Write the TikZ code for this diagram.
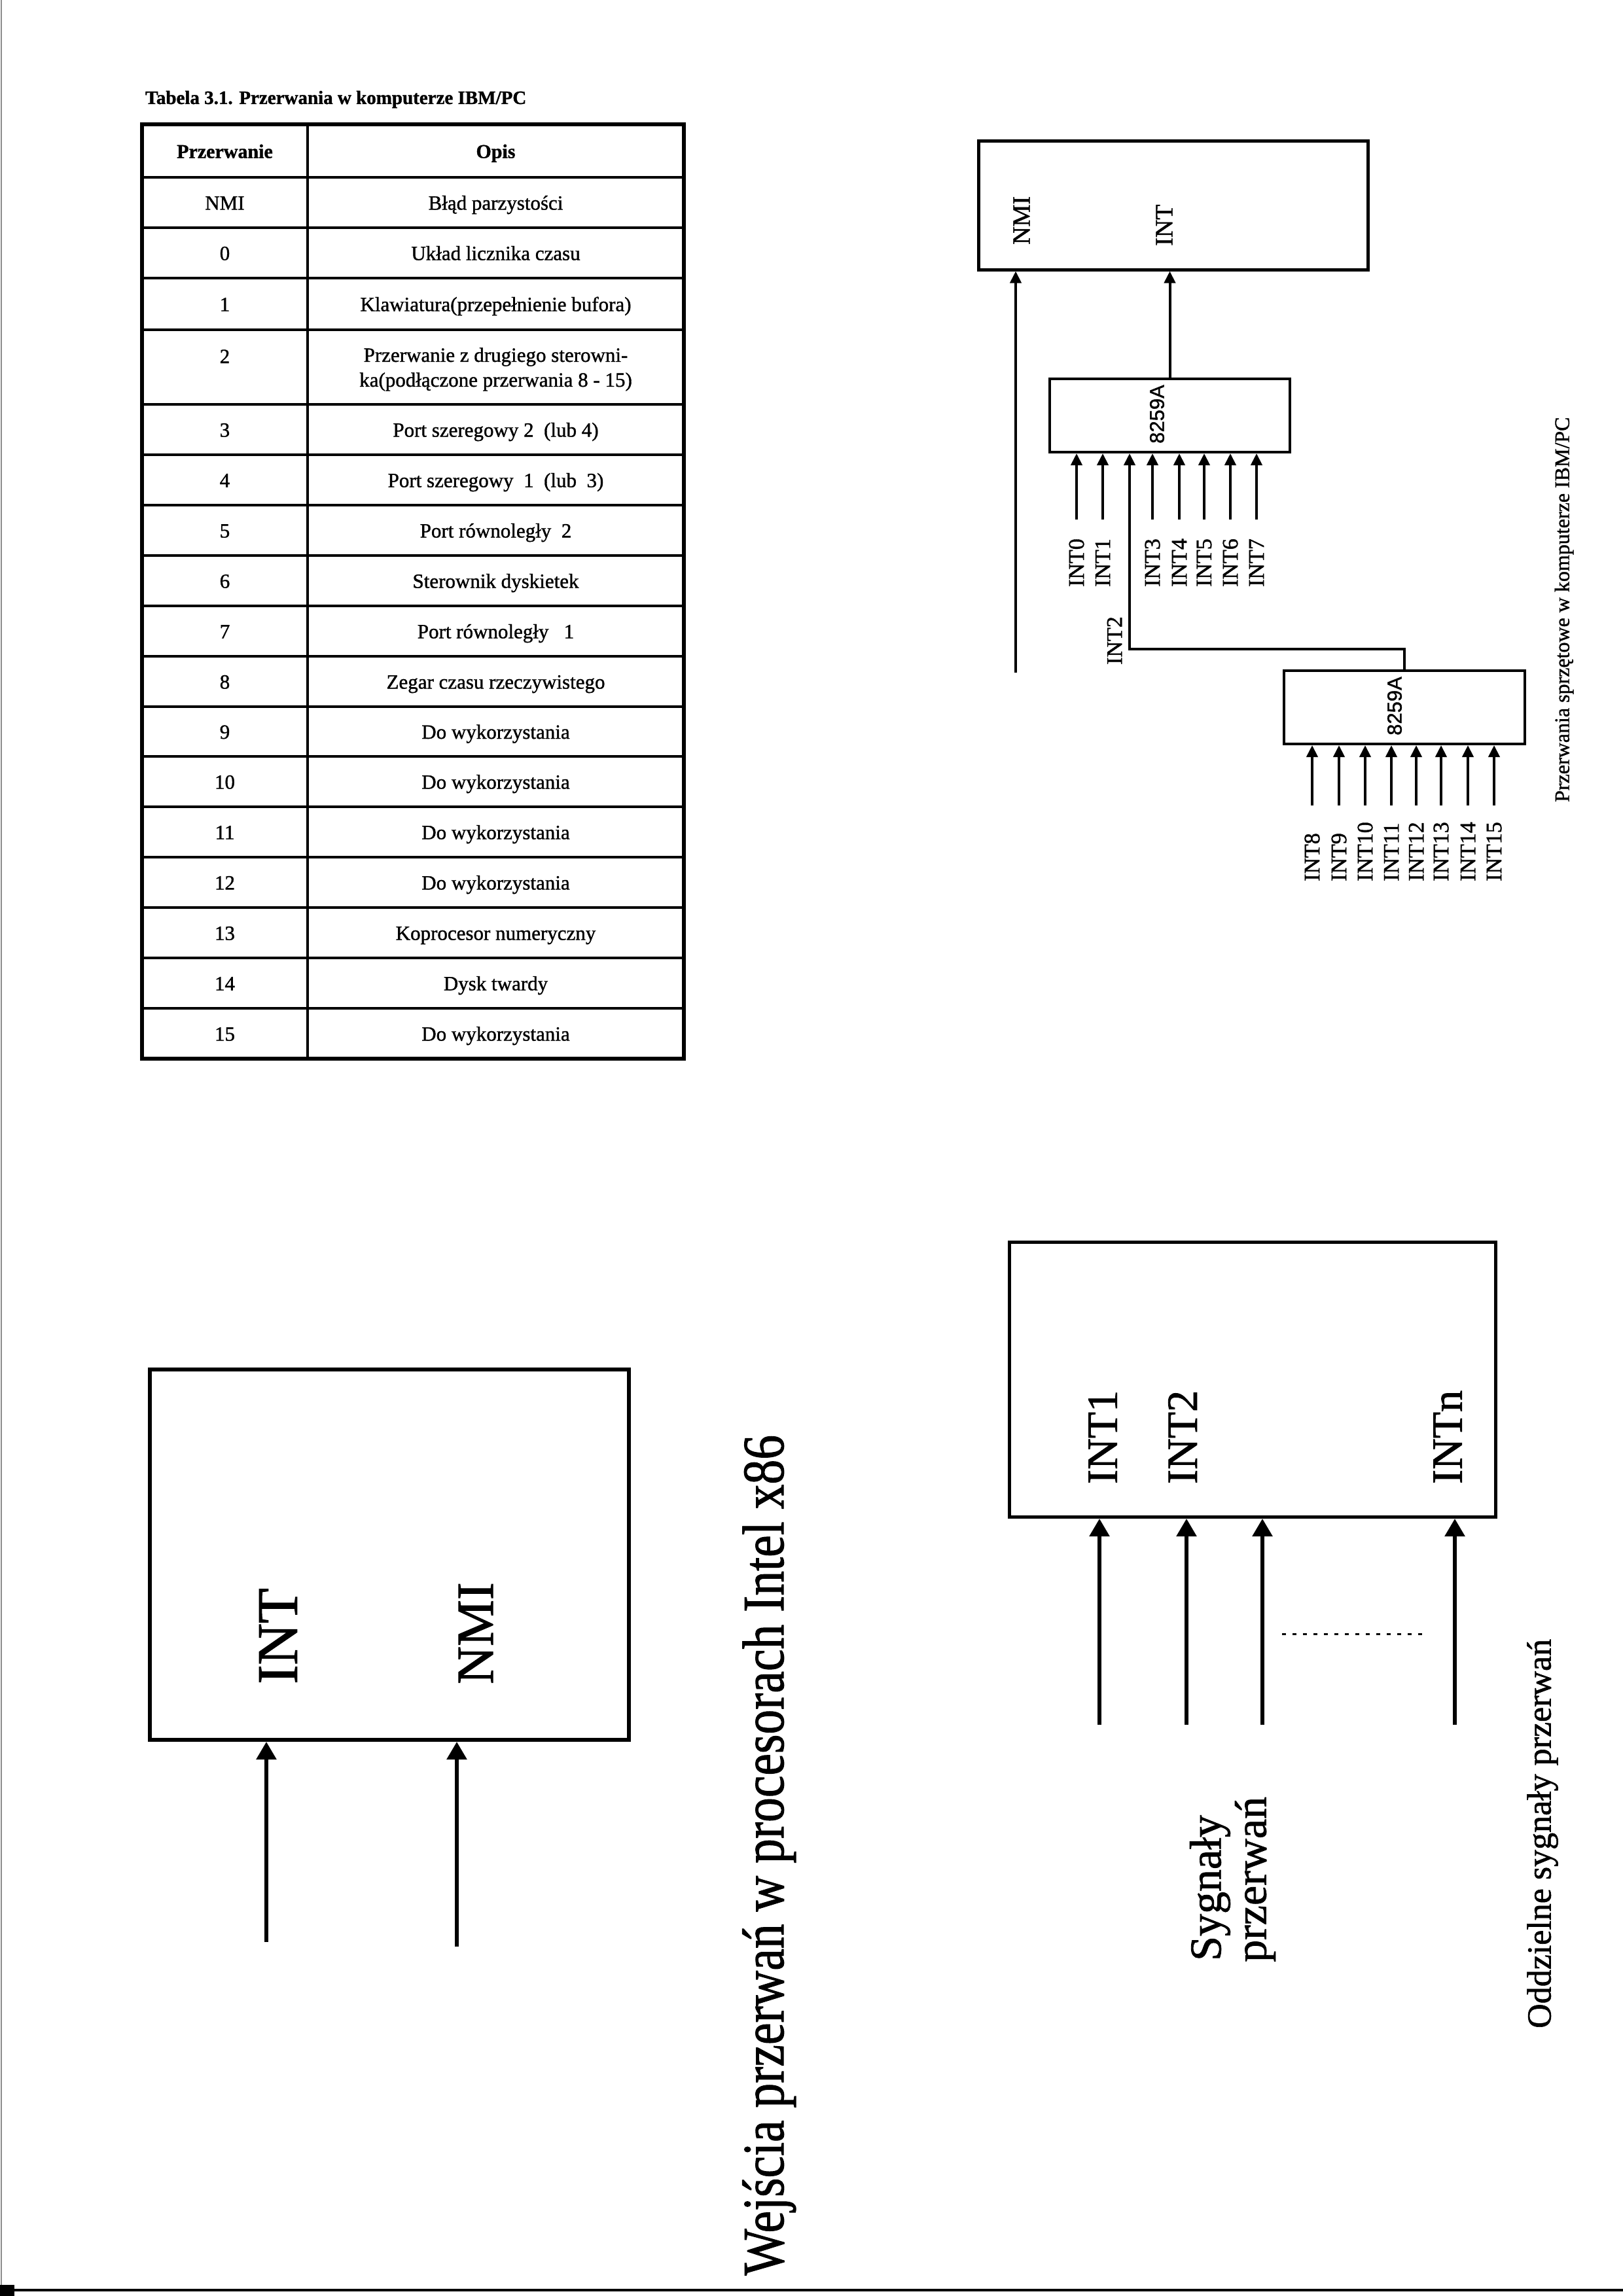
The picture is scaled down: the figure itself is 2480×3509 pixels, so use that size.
\documentclass[tikz,border=0pt]{standalone}
\usepackage{fontspec}
\setmainfont{Liberation Serif}[FakeBold=1.2]
\setsansfont{Liberation Sans}[FakeBold=1.2]
\usetikzlibrary{arrows.meta}
\begin{document}
\begin{tikzpicture}[x=1pt,y=-1pt,
  cell/.style={font={\fontsize{31}{38}\selectfont}, inner sep=0, anchor=base},
  hdr/.style={font={\bfseries\fontsize{30}{36}\selectfont}, inner sep=0, anchor=base},
  rlab/.style={rotate=90, anchor=west, inner sep=0},
  bx/.style={draw, inner sep=0, anchor=north west},
  arrS/.style={line width=4, -{Triangle[length=18pt,width=17pt]}},
  arrB/.style={line width=5.5, -{Triangle[length=27pt,width=30pt]}},
  tline/.style={line width=4},
  smalllab/.style={rlab, font={\fontsize{34}{40}\selectfont}}
]
\fill[white] (0,0) rectangle (2480,3509);
\useasboundingbox (0,0) rectangle (2480,3509);

% ---------------- Table ----------------
\node[inner sep=0, anchor=west, font={\bfseries\fontsize{29}{34}\selectfont}] (ttl) at (222,152) {Tabela 3.1. Przerwania w komputerze IBM/PC};
\draw[line width=5.5] (217,190) rectangle (1045,1618);
\draw[tline] (470,190) -- (470,1618);
\foreach \yy in {271,348,425,504,618,695,772,849,926,1003,1080,1156,1233,1310,1387,1464,1541}
  \draw[tline] (217,\yy) -- (1045,\yy);

\node[hdr] (hA) at (343.5,241.5) {Przerwanie};
\node[hdr] (hB) at (757.5,241.5) {Opis};
\node[cell] (nN) at (343.5,320.5) {NMI};
\node[cell] (dN) at (757.5,320.5) {Błąd parzystości};
\node[cell] (n0) at (343.5,397.5) {0};
\node[cell] (d0) at (757.5,397.5) {Układ licznika czasu};
\node[cell] (n1) at (343.5,475.5) {1};
\node[cell] (d1) at (757.5,475.5) {Klawiatura(przepełnienie bufora)};
\node[cell] (n2) at (343.5,555) {2};
\node[cell, anchor=center, align=center] (d2) at (757.5,564.5) {Przerwanie z drugiego sterowni-\\ka(podłączone przerwania 8 - 15)};
\node[cell] (n3) at (343.5,667.5) {3};
\node[cell] (d3) at (757.5,667.5) {Port szeregowy 2\ \ (lub 4)};
\node[cell] (n4) at (343.5,744.5) {4};
\node[cell] (d4) at (757.5,744.5) {Port szeregowy\ \ 1\ \ (lub\ \ 3)};
\node[cell] (n5) at (343.5,821.5) {5};
\node[cell] (d5) at (757.5,821.5) {Port równoległy\ \ 2};
\node[cell] (n6) at (343.5,898.5) {6};
\node[cell] (d6) at (757.5,898.5) {Sterownik dyskietek};
\node[cell] (n7) at (343.5,975.5) {7};
\node[cell] (d7) at (757.5,975.5) {Port równoległy\ \ \ 1};
\node[cell] (n8) at (343.5,1052.5) {8};
\node[cell] (d8) at (757.5,1052.5) {Zegar czasu rzeczywistego};
\node[cell] (n9) at (343.5,1129) {9};
\node[cell] (d9) at (757.5,1129) {Do wykorzystania};
\node[cell] (n10) at (343.5,1205.5) {10};
\node[cell] (d10) at (757.5,1205.5) {Do wykorzystania};
\node[cell] (n11) at (343.5,1282.5) {11};
\node[cell] (d11) at (757.5,1282.5) {Do wykorzystania};
\node[cell] (n12) at (343.5,1359.5) {12};
\node[cell] (d12) at (757.5,1359.5) {Do wykorzystania};
\node[cell] (n13) at (343.5,1436.5) {13};
\node[cell] (d13) at (757.5,1436.5) {Koprocesor numeryczny};
\node[cell] (n14) at (343.5,1513.5) {14};
\node[cell] (d14) at (757.5,1513.5) {Dysk twardy};
\node[cell] (n15) at (343.5,1590.5) {15};
\node[cell] (d15) at (757.5,1590.5) {Do wykorzystania};

% ---------------- Top-right: IBM PC hardware interrupts ----------------
\node[bx, line width=4.5, minimum width=595, minimum height=197] (cpu) at (1493,213) {};
\node[rlab, font={\fontsize{38}{44}\selectfont}] (cNMI) at (1561,374) {NMI};
\node[rlab, font={\fontsize{38}{44}\selectfont}] (cINT) at (1779,376) {INT};

\node[bx, line width=4, minimum width=367, minimum height=112] (master) at (1602,577) {};
\node[rotate=90, inner sep=0, font={\sffamily\fontsize{31}{36}\selectfont}] (mtxt) at (1768,633) {8259A};
\node[bx, line width=4, minimum width=368, minimum height=112] (slave) at (1960,1023) {};
\node[rotate=90, inner sep=0, font={\sffamily\fontsize{31}{36}\selectfont}] (stxt) at (2131,1079) {8259A};

\coordinate (nmiin) at (1552,1028);
\draw[arrS] (nmiin) -- (nmiin |- cpu.south);
\draw[arrS] (master.north) -- (master.north |- cpu.south);

% master inputs
\foreach \xx/\nm in {1645/0,1685/1,1761/3,1802/4,1840/5,1880/6,1920/7}{
  \coordinate (mi\nm) at (\xx,794);
  \draw[arrS] (mi\nm) -- (mi\nm |- master.south);
  \node[smalllab] (ml\nm) at (\xx,897) {INT\nm};
}
\coordinate (mi2) at (1726,992);
\draw[arrS] (slave.north) |- (mi2) -- (mi2 |- master.south);
\node[smalllab] (ml2) at (1703,1016) {INT2};

% slave inputs
\foreach \xx/\nm in {2005/8,2046/9,2086/10,2126/11,2164/12,2202/13,2243/14,2283/15}{
  \coordinate (si\nm) at (\xx,1231);
  \draw[arrS] (si\nm) -- (si\nm |- slave.south);
  \node[smalllab] (sl\nm) at (\xx,1347) {INT\nm};
}

\node[rlab, font={\fontsize{32}{38}\selectfont}] (cap1) at (2390,1226) {Przerwania sprzętowe w komputerze IBM/PC};

% ---------------- Bottom-left: x86 inputs ----------------
\node[bx, line width=6, minimum width=732, minimum height=566] (cpu2) at (226,2090) {};
\node[rlab, font={\fontsize{88}{96}\selectfont}] (bINT) at (425,2574) {INT};
\node[rlab, font={\fontsize{80}{90}\selectfont}] (bNMI) at (727,2574) {NMI};
\coordinate (bi1) at (407,2968);
\coordinate (bi2) at (698,2975);
\draw[arrB] (bi1) -- (bi1 |- cpu2.south);
\draw[arrB] (bi2) -- (bi2 |- cpu2.south);
\node[rotate=90, anchor=base west, inner sep=0, font={\fontsize{90}{100}\selectfont}] (cap2) at (1197,3478) {\scalebox{0.84}[1]{Wejścia przerwań w procesorach Intel x86}};

% ---------------- Bottom-right: separate interrupt signals ----------------
\node[bx, line width=5, minimum width=743, minimum height=420] (cpu3) at (1540,1896) {};
\node[rlab, font={\fontsize{66}{74}\selectfont}] (r1) at (1685,2268) {INT1};
\node[rlab, font={\fontsize{66}{74}\selectfont}] (r2) at (1807,2268) {INT2};
\node[rlab, font={\fontsize{66}{74}\selectfont}] (rn) at (2212,2268) {INTn};
\foreach \xx/\nm in {1680/a,1813/b,1929/c,2223/d}{
  \coordinate (ri\nm) at (\xx,2636);
  \draw[arrB] (ri\nm) -- (ri\nm |- cpu3.south);
}
\draw[line width=3, dash pattern=on 6pt off 10pt] (1959,2497) -- (2175,2497);
\node[rlab, font={\fontsize{68}{76}\selectfont}] (sy1) at (1849,2997) {Sygnały};
\node[rlab, font={\fontsize{68}{76}\selectfont}] (sy2) at (1918,2999) {przerwań};
\node[rlab, font={\fontsize{52}{60}\selectfont}] (cap3) at (2357,3100) {Oddzielne sygnały przerwań};

% ---------------- scan edges ----------------
\draw[line width=2, black!45] (2,0) -- (2,3500);
\draw[line width=4] (0,3500) -- (2480,3500);
\fill (0,3492) rectangle (22,3509);
\end{tikzpicture}
\end{document}
